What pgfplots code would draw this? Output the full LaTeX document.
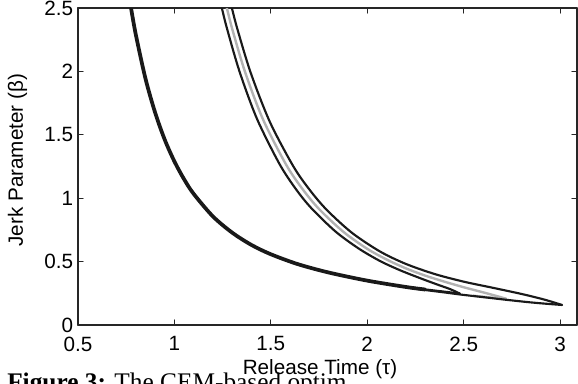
\documentclass[border=0pt]{standalone}
\usepackage{pgfplots}
\pgfplotsset{compat=1.18}
\usepackage{fontspec}
\setmainfont{Liberation Sans}
\newfontfamily\capfont{Liberation Serif}
\begin{document}
\begin{tikzpicture}
\begin{axis}[
  at={(0,0)}, anchor=south west,
  width=374.25pt, height=237.75pt, scale only axis,
  xmin=0.5, xmax=3.088, ymin=0, ymax=2.5,
  xtick={0.5,1,1.5,2,2.5,3},
  ytick={0,0.5,1,1.5,2,2.5},
  xticklabels={0.5,1,1.5,2,2.5,3},
  yticklabels={0,0.5,1,1.5,2,2.5},
  tick align=inside,
  major tick length=3.75pt,
  axis line style={line width=1pt, black!85},
  tick style={line width=0.8pt, black!85},
  /pgf/number format/assume math mode=true,
  ticklabel style={font=\fontsize{15.5}{17}\selectfont},
  xticklabel style={anchor=north, inner sep=0pt, yshift=-8.5pt},
  yticklabel style={anchor=east, inner sep=0pt, xshift=-3.5pt},
  xlabel={Release Time (τ)},
  ylabel={Jerk Parameter (β)},
  label style={font=\fontsize{15.5}{17}\selectfont},
  xlabel style={at={(axis description cs:0.485,0)}, anchor=north, inner sep=0pt, yshift=-26pt},
  ylabel style={at={(axis description cs:0,0.52)}, anchor=south, inner sep=0pt, yshift=38pt},
  line join=round, line cap=round,
  every axis plot/.append style={smooth, tension=0.5},
]
% gray contour (middle)
\addplot[color=black!30, line width=1.8pt] coordinates {
(1.255,2.6)(1.272,2.5)(1.30,2.334)(1.367,1.993)(1.46,1.62)(1.58,1.263)(1.666,1.069)(1.75,0.915)(1.877,0.734)(2.0,0.601)(2.1,0.517)(2.2,0.447)(2.3,0.39)(2.4,0.342)(2.5,0.298)(2.6,0.258)(2.67,0.229)(2.72,0.207)
};
\addplot[color=black!30, line width=1.8pt] coordinates {
(2.72,0.207)(2.64,0.217)(2.55,0.231)
};
% inner contour upper branch
\addplot[color=black!90, line width=1.6pt] coordinates {
(1.23,2.6)(1.246,2.5)(1.273,2.337)(1.338,1.998)(1.428,1.627)(1.545,1.27)(1.63,1.072)(1.71,0.922)(1.835,0.738)(1.955,0.604)(2.066,0.505)(2.17,0.432)(2.27,0.372)(2.36,0.321)(2.43,0.283)(2.48,0.248)
};
% outer contour upper branch
\addplot[color=black!90, line width=1.6pt] coordinates {
(1.281,2.6)(1.298,2.5)(1.327,2.332)(1.396,1.988)(1.495,1.602)(1.617,1.251)(1.703,1.063)(1.79,0.908)(1.92,0.728)(2.066,0.58)(2.2,0.482)(2.35,0.402)(2.5,0.342)(2.65,0.294)(2.8,0.245)(2.9,0.208)(2.96,0.182)(3.01,0.158)
};
% common lower branch (thick, overlapping contours)
\addplot[color=black!90, line width=2.8pt] coordinates {
(0.765,2.593)(0.775,2.5)(0.8,2.289)(0.85,1.943)(0.9,1.675)(0.95,1.461)(1.0,1.29)(1.05,1.15)(1.1,1.034)(1.2,0.856)(1.3,0.728)(1.4,0.631)(1.5,0.558)(1.64,0.48)(1.8,0.414)(2.0,0.35)(2.2,0.3)(2.3,0.28)
};
% inner contour lower end
\addplot[color=black!90, line width=1.6pt] coordinates {
(2.2,0.302)(2.3,0.281)(2.4,0.263)(2.48,0.248)
};
% outer contour lower end
\addplot[color=black!90, line width=1.6pt] coordinates {
(2.2,0.297)(2.3,0.276)(2.4,0.257)(2.48,0.241)(2.6,0.22)(2.72,0.199)(2.85,0.178)(2.95,0.165)(3.01,0.158)
};
\end{axis}
\node[anchor=north west, inner sep=0pt, font=\capfont\fontsize{19}{22}\selectfont] at (-53.25pt,-36pt) {\textbf{Figure 3:} The CEM-based optim};
\pgfresetboundingbox
\path[use as bounding box] (-58.5pt,-43.5pt) rectangle (375pt,243.75pt);
\end{tikzpicture}
\end{document}
